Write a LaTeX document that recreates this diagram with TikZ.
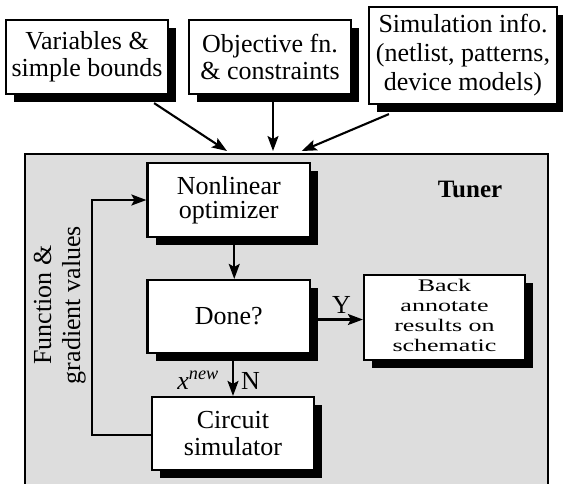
\documentclass[tikz,border=0pt]{standalone}
\usepackage{fontspec}
\setmainfont{Liberation Serif}
\usetikzlibrary{arrows.meta,shadows,calc}
\definecolor{tunergray}{RGB}{221,221,221}
\begin{document}
\begin{tikzpicture}[x=1pt,y=-1pt,
  box/.style={draw=black,line width=2.2pt,fill=white,inner sep=0pt,align=center,
    drop shadow={shadow xshift=8pt,shadow yshift=-8pt,fill=black,opacity=1},
    font=\fontsize{26}{27}\selectfont},
  arr/.style={line width=2.1pt,-{Stealth[length=15pt,width=11pt,inset=3pt]}},
  lbl/.style={font=\fontsize{26}{27}\selectfont,inner sep=0pt}]
\useasboundingbox (0,0) rectangle (563,483);
\clip (0,0) rectangle (563,483);
% tuner frame
\node[draw=black,fill=tunergray,line width=2.2pt,inner sep=0pt,anchor=north west,
  minimum width=523.5pt,minimum height=347pt] (tuner) at (23.5,153) {};
% input boxes
\node[box,minimum width=162pt,minimum height=74pt] (b1) at (87,57) {Variables \&\\simple bounds};
\node[box,minimum width=162pt,minimum height=74pt] (b2) at (270,57) {Objective fn.\\\& constraints};
\node[box,minimum width=188pt,minimum height=97pt,font=\fontsize{26}{29}\selectfont] (b3) at (463,55.5) {Simulation info.\\(netlist, patterns,\\device models)};
\coordinate (t1) at (227,151);
\coordinate (t2) at (273,151);
\coordinate (t3) at (301.7,151);
\draw[arr] ([xshift=-15pt,yshift=-8pt]b1.south east) -- (t1);
\draw[arr] ([xshift=3pt]b2.south) -- (t2);
\draw[arr] ([xshift=21pt,yshift=-9pt]b3.south west) -- (t3);
% inner boxes
\node[box,minimum width=162.5pt,minimum height=74pt,font=\fontsize{26}{24}\selectfont] (nl) at (228.75,200) {Nonlinear\\optimizer};
\node[box,minimum width=162.5pt,minimum height=73pt] (done) at (228.75,316.5) {Done?};
\node[box,minimum width=161pt,minimum height=85pt,font=\fontsize{26}{29}\selectfont] (back) at (444.5,317.5)
  {\scalebox{1}[0.68]{\begin{tabular}{@{}c@{}}Back\\annotate\\results on\\schematic\end{tabular}}};
\node[box,minimum width=162pt,minimum height=73pt] (circ) at (233,433.5) {Circuit\\simulator};
% connectors
\draw[arr] ([xshift=5.5pt]nl.south) -- ([xshift=5.5pt]done.north);
\draw[arr] (done.south -| circ.north) -- (circ.north);
\draw[arr] ([yshift=-3pt]done.east) -- ([yshift=-3pt]done.east -| back.west);
\draw[arr] ([yshift=-1.5pt]circ.west) -- ++(-59.3,0) |- (nl.west);
% labels
\node[lbl,anchor=base] (ylbl) at (341.5,313) {Y};
\node[lbl,anchor=base east] (xlbl) at (219,389) {\textit{x}\textsuperscript{\textit{new}}};
\node[lbl,anchor=base west] (nlbl) at (241,389) {N};
\node[lbl,anchor=base,font=\bfseries\fontsize{25}{27}\selectfont] (tlbl) at (470,197) {Tuner};
\node[lbl,rotate=90,align=center,font=\fontsize{26}{29}\selectfont] (flbl) at (59.7,305) {Function \&\\gradient values};
\end{tikzpicture}
\end{document}
